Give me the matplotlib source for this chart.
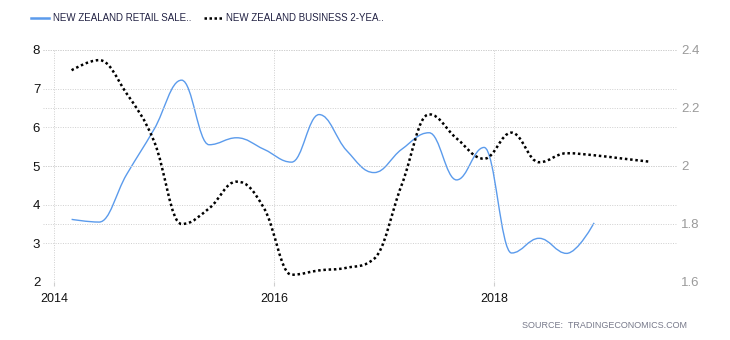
import matplotlib
matplotlib.use('Agg')
import matplotlib.pyplot as plt
from matplotlib.path import Path
from matplotlib.patches import PathPatch
from matplotlib.lines import Line2D

# quarterly dates as decimal years (Mar, Jun, Sep, Dec)
retail_x = [2014.16, 2014.41, 2014.66, 2014.91, 2015.16, 2015.41, 2015.66, 2015.91,
            2016.16, 2016.41, 2016.66, 2016.91, 2017.16, 2017.41, 2017.66, 2017.91,
            2018.16, 2018.41, 2018.66, 2018.91]
retail_y = [3.62, 3.55, 4.78, 5.95, 7.22, 5.55, 5.73, 5.43,
            5.10, 6.33, 5.40, 4.83, 5.43, 5.86, 4.64, 5.48,
            2.75, 3.13, 2.74, 3.53]

rate_x = [2014.16, 2014.41, 2014.66, 2014.91, 2015.16, 2015.41, 2015.66, 2015.91,
          2016.16, 2016.41, 2016.66, 2016.91, 2017.16, 2017.41, 2017.66, 2017.91,
          2018.16, 2018.41, 2018.66, 2018.91, 2019.16, 2019.41]
rate_y = [2.33, 2.365, 2.25, 2.085, 1.80, 1.854, 1.946, 1.854,
          1.625, 1.64, 1.649, 1.68, 1.934, 2.178, 2.095, 2.025,
          2.115, 2.013, 2.044, 2.037, 2.026, 2.015]

left_ticks = [2, 3, 4, 5, 6, 7, 8]
right_ticks = [1.6, 1.8, 2.0, 2.2, 2.4]
right_labels = ['1.6', '1.8', '2', '2.2', '2.4']
year_ticks = [2014, 2016, 2018]

legend_labels = ['NEW ZEALAND RETAIL SALE..', 'NEW ZEALAND BUSINESS 2-YEA..']
source_text = 'SOURCE:  TRADINGECONOMICS.COM'

blue = '#5b9bec'


def spline_path(xs, ys, smoothing=1.5):
    # bezier spline through the points, highcharts style
    n = len(xs)
    denom = smoothing + 1
    left = [(xs[0], ys[0])] * n
    right = [(xs[0], ys[0])] * n
    for i in range(n):
        x, y = xs[i], ys[i]
        if i == 0 or i == n - 1:
            left[i] = (x, y)
            right[i] = (x, y)
            continue
        lx, ly = xs[i - 1], ys[i - 1]
        nx, ny = xs[i + 1], ys[i + 1]
        lcx = (smoothing * x + lx) / denom
        lcy = (smoothing * y + ly) / denom
        rcx = (smoothing * x + nx) / denom
        rcy = (smoothing * y + ny) / denom
        if rcx != lcx:
            corr = ((rcy - lcy) * (rcx - x)) / (rcx - lcx) + y - rcy
            lcy += corr
            rcy += corr
        if lcy > ly and lcy > y:
            lcy = max(ly, y)
            rcy = 2 * y - lcy
        elif lcy < ly and lcy < y:
            lcy = min(ly, y)
            rcy = 2 * y - lcy
        if rcy > ny and rcy > y:
            rcy = max(ny, y)
            lcy = 2 * y - rcy
        elif rcy < ny and rcy < y:
            rcy = min(ny, y)
            lcy = 2 * y - rcy
        left[i] = (lcx, lcy)
        right[i] = (rcx, rcy)
    verts = [(xs[0], ys[0])]
    codes = [Path.MOVETO]
    for i in range(1, n):
        verts += [right[i - 1], left[i], (xs[i], ys[i])]
        codes += [Path.CURVE4] * 3
    return Path(verts, codes)


fig = plt.figure(figsize=(7.3, 3.4), dpi=100)
ax = fig.add_axes([43 / 730, 1 - 282 / 340, (677 - 43) / 730, (282 - 50) / 340])
ax2 = ax.twinx()

ax.set_xlim(2014 + (43 - 54) / 110, 2014 + (677 - 54) / 110)
ax.set_ylim(2, 8)
ax2.set_ylim(1.6, 2.4)

grid_kw = dict(color='#cfcfcf', linestyle=(0, (1, 1.5)), linewidth=0.7)
ax.set_yticks(left_ticks)
ax.set_xticks(year_ticks)
ax.set_xticklabels([str(y) for y in year_ticks])
ax.grid(True, **grid_kw)
ax2.set_yticks(right_ticks)
ax2.set_yticklabels(right_labels)
ax2.grid(True, axis='y', **grid_kw)

for a in (ax, ax2):
    for s in a.spines.values():
        s.set_visible(False)
    a.set_axisbelow(True)

tick_font = ['Liberation Sans Narrow', 'Liberation Sans', 'DejaVu Sans']
ax.tick_params(axis='y', length=0, pad=2, labelsize=9.5, labelcolor='#111111')
ax.tick_params(axis='x', length=3, color='#cfcfcf', pad=5, labelsize=9, labelcolor='#111111')
ax2.tick_params(axis='y', length=0, pad=3, labelsize=9.5, labelcolor='#9a9a9a')
for lab in ax.get_xticklabels() + ax.get_yticklabels() + ax2.get_yticklabels():
    lab.set_family(tick_font)

ax.add_patch(PathPatch(spline_path(retail_x, retail_y), fill=False,
                       edgecolor=blue, linewidth=1.0))
ax2.add_patch(PathPatch(spline_path(rate_x, rate_y), fill=False,
                        edgecolor='black', linewidth=1.8,
                        linestyle=(0, (1, 1.1))))

handles = [Line2D([], [], color=blue, linewidth=1.8),
           Line2D([], [], color='black', linewidth=1.8, linestyle=(0, (1, 1)))]
fig.legend(handles, legend_labels, loc='center left',
           bbox_to_anchor=(22 / 730, 1 - 18 / 340), ncol=2, frameon=False,
           prop={'family': 'Liberation Sans', 'size': 7}, labelcolor='#222244',
           handlelength=1.9, handletextpad=0.4, columnspacing=1.3)

fig.text(687 / 730, 1 - 325 / 340, source_text, ha='right', va='center',
         fontsize=6.5, color='#77798a', family='Liberation Sans')

fig.savefig('out.png', dpi=100)
